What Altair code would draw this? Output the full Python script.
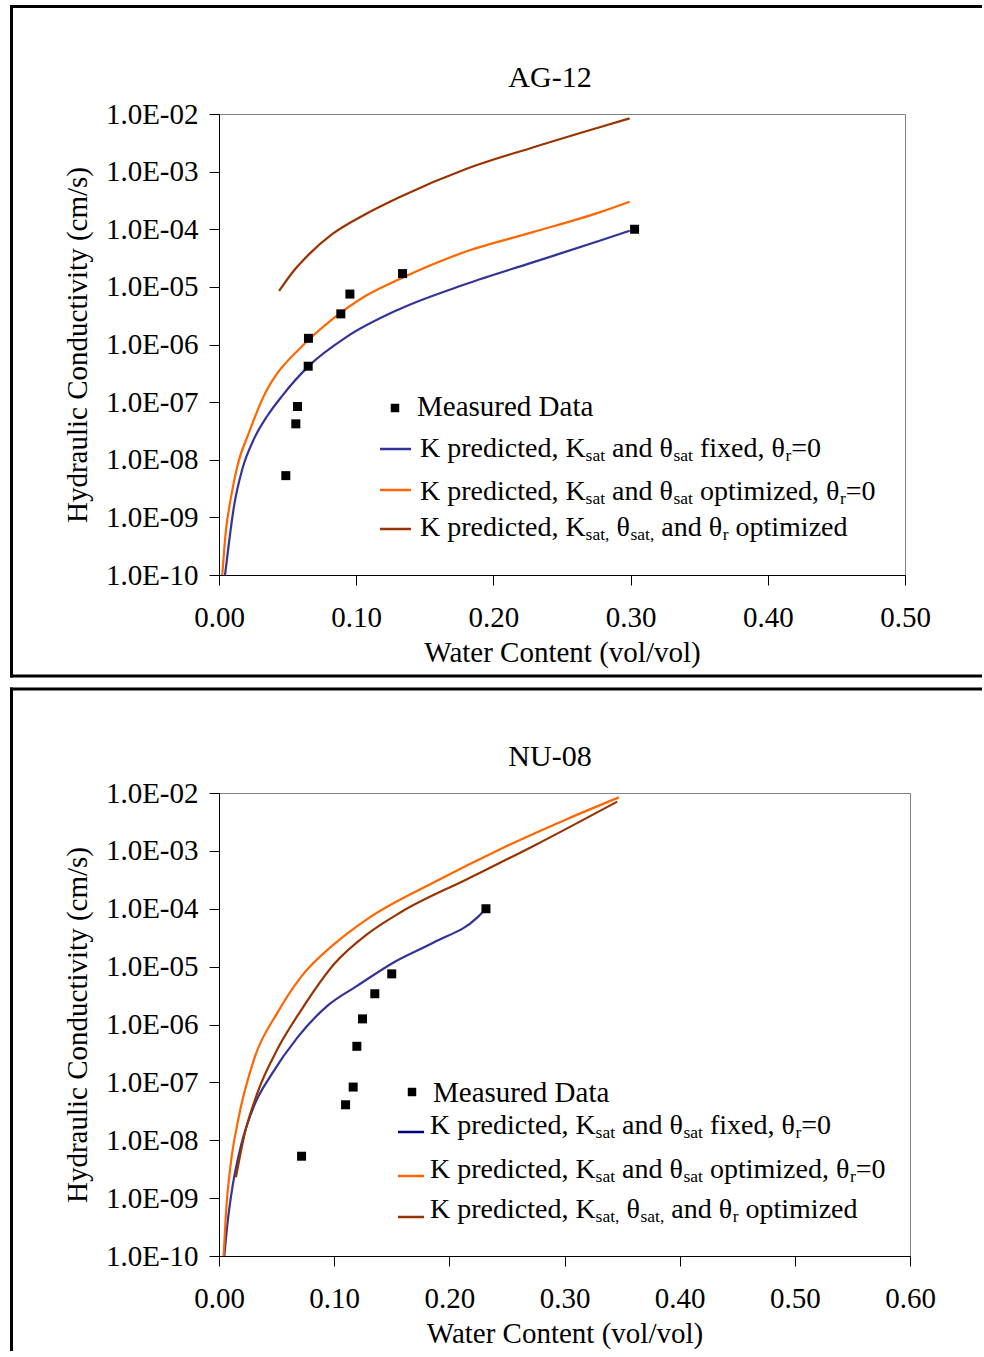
import altair as alt
import pandas as pd

FONT = "Liberation Serif"
BLUE_AG = "#333399"
BLUE_NU = "#000080"
ORANGE = "#FF6600"
BROWN = "#993300"

# ---------------- AG-12 ----------------
ag_meas_theta = [0.0487, 0.0560, 0.0572, 0.0650, 0.0652, 0.0888, 0.0954, 0.1338, 0.3029]
ag_meas_k = [5.3e-9, 4.2e-8, 8.4e-8, 4.2e-7, 1.28e-6, 3.4e-6, 7.5e-6, 1.7e-5, 1.0e-4]

ag_fixed_theta = [0.0044, 0.0073, 0.0110, 0.0170, 0.0255, 0.0353, 0.0462, 0.0657,
                  0.0925, 0.1314, 0.1800, 0.2287, 0.2774, 0.2993]
ag_fixed_k = [1.0e-10, 3.7e-10, 1.6e-9, 6.9e-9, 2.3e-8, 5.8e-8, 1.3e-7, 4.3e-7,
              1.33e-6, 4.1e-6, 1.12e-5, 2.66e-5, 6.3e-5, 9.4e-5]

ag_opt_theta = [0.0024, 0.0049, 0.0085, 0.0134, 0.0219, 0.0340, 0.0414, 0.0584,
                0.0827, 0.1070, 0.1314, 0.1800, 0.2287, 0.2774, 0.2993]
ag_opt_k = [1.0e-10, 5.5e-10, 2.07e-9, 7.8e-9, 2.98e-8, 1.48e-7, 2.9e-7, 8.3e-7,
            2.75e-6, 7.0e-6, 1.36e-5, 4.1e-5, 8.9e-5, 1.96e-4, 3.0e-4]

ag_optr_theta = [0.0438, 0.0535, 0.0657, 0.0827, 0.1070, 0.1314, 0.1800, 0.2287, 0.2774, 0.2993]
ag_optr_k = [8.5e-6, 1.78e-5, 3.7e-5, 8.3e-5, 1.84e-4, 3.6e-4, 1.11e-3, 2.63e-3, 5.9e-3, 8.4e-3]

# ---------------- NU-08 ----------------
nu_meas_theta = [0.0717, 0.1099, 0.1165, 0.1197, 0.1246, 0.1353, 0.1500, 0.2318]
nu_meas_k = [5.3e-9, 4.1e-8, 8.3e-8, 4.2e-7, 1.25e-6, 3.4e-6, 7.5e-6, 1.0e-4]

nu_fixed_theta = [0.0046, 0.0075, 0.0119, 0.0191, 0.0306, 0.0451, 0.0682, 0.0943,
                  0.1203, 0.1520, 0.1867, 0.2244, 0.2301]
nu_fixed_k = [1.0e-10, 3.9e-10, 1.66e-9, 8.1e-9, 4.0e-8, 1.32e-7, 6.0e-7, 2.12e-6,
              4.7e-6, 1.19e-5, 2.63e-5, 7.1e-5, 9.3e-5]

nu_opt_theta = [0.0040, 0.0061, 0.0104, 0.0162, 0.0306, 0.0509, 0.0711, 0.1000,
                0.1290, 0.1867, 0.2446, 0.3024, 0.3472]
nu_opt_k = [1.0e-10, 5.8e-10, 4.2e-9, 2.04e-8, 2.57e-7, 1.62e-6, 6.6e-6, 2.45e-5,
            6.7e-5, 2.87e-4, 1.08e-3, 3.56e-3, 8.4e-3]

nu_optr_theta = [0.0147, 0.0219, 0.0336, 0.0509, 0.0711, 0.1000, 0.1290, 0.1578,
                 0.2157, 0.2735, 0.3458]
nu_optr_k = [2.3e-9, 1.2e-8, 6.8e-8, 3.8e-7, 1.74e-6, 1.11e-5, 3.67e-5, 8.7e-5,
             3.27e-4, 1.23e-3, 7.1e-3]

y_ticks = [1e-10, 1e-9, 1e-8, 1e-7, 1e-6, 1e-5, 1e-4, 1e-3, 1e-2]

SERIES = ["fixed", "opt", "opt_r"]

LEGEND_LINES = [
    [("K predicted, K", False), ("sat", True), (" and θ", False), ("sat", True),
     (" fixed, θ", False), ("r", True), ("=0", False)],
    [("K predicted, K", False), ("sat", True), (" and θ", False), ("sat", True),
     (" optimized, θ", False), ("r", True), ("=0", False)],
    [("K predicted, K", False), ("sat,", True), (" θ", False), ("sat,", True),
     (" and θ", False), ("r", True), (" optimized", False)],
]

# Times-compatible advance widths (em units) for laying out mixed-size legend text
ADV = {"K": .722, " ": .25, "p": .5, "r": .333, "e": .444, "d": .5, "i": .278,
       "c": .444, "t": .278, ",": .25, "s": .389, "a": .444, "n": .5, "θ": .5,
       "f": .333, "x": .5, "=": .564, "0": .5, "o": .5, "m": .778, "z": .444}

ONE = pd.DataFrame({"a": [0]})
FS_MAIN, FS_SUB, SUB_DY = 28, 17.5, 4
FS_AXIS = 29


def text_at(txt, x, y, fs, align="left"):
    return alt.Chart(ONE).mark_text(
        text=txt, font=FONT, fontSize=fs, align=align, baseline="alphabetic", color="black"
    ).encode(x=alt.value(x), y=alt.value(y))


def hrule(x1, x2, y, color, w):
    return alt.Chart(ONE).mark_rule(color=color, strokeWidth=w).encode(
        x=alt.value(x1), x2=alt.value(x2), y=alt.value(y))


def vrule(x, y1, y2, color, w):
    return alt.Chart(ONE).mark_rule(color=color, strokeWidth=w).encode(
        x=alt.value(x), y=alt.value(y1), y2=alt.value(y2))


def rich_text(parts, x0, base):
    layers = []
    x = x0
    for txt, sub in parts:
        fs = FS_SUB if sub else FS_MAIN
        lead = len(txt) - len(txt.lstrip(" "))
        x += lead * ADV[" "] * fs
        body = txt.strip(" ")
        layers.append(text_at(body, x, base + (SUB_DY if sub else 0), fs))
        x += sum(ADV[c] for c in body) * fs
    return layers


def panel(name, xmax, width, height, meas, curves, colors, leg, frame):
    x_axis = alt.Axis(values=[round(0.1 * i, 1) for i in range(int(round(xmax * 10)) + 1)],
                      format=".2f", title="Water Content (vol/vol)", labelFlush=False,
                      labelOverlap=False, labelPadding=18, titlePadding=6)
    y_axis = alt.Axis(values=y_ticks, title="Hydraulic Conductivity (cm/s)",
                      labelExpr="'1.0E-' + (round(-log(datum.value) / LN10) < 10 ? '0' : '') + round(-log(datum.value) / LN10)",
                      labelPadding=11, titlePadding=13, labelOverlap=False, labelFlush=False)
    xs = alt.Scale(domain=[0, xmax], nice=False, zero=False)
    ys = alt.Scale(type="log", domain=[1e-10, 1e-2], nice=False)

    rows = []
    for s, (th, k) in zip(SERIES, curves):
        rows += [{"series": s, "theta": t, "k": v} for t, v in zip(th, k)]
    cdf = pd.DataFrame(rows)
    mdf = pd.DataFrame({"theta": meas[0], "k": meas[1]})

    lines = alt.Chart(cdf).mark_line(strokeWidth=2.2, clip=True, interpolate="monotone").encode(
        x=alt.X("theta:Q", scale=xs, axis=x_axis),
        y=alt.Y("k:Q", scale=ys, axis=y_axis),
        color=alt.Color("series:N", scale=alt.Scale(domain=SERIES, range=colors), legend=None),
    )
    points = alt.Chart(mdf).mark_square(size=81, color="black", opacity=1).encode(
        x=alt.X("theta:Q", scale=xs, axis=x_axis),
        y=alt.Y("k:Q", scale=ys, axis=y_axis),
    )

    layers = [lines, points]

    # chart title
    layers.append(text_at(name, 331, -27, 30, align="center"))

    # legend block
    sq_x, sq_y, md_x, md_base = leg["square"]
    layers.append(alt.Chart(ONE).mark_square(size=72, color="black", opacity=1).encode(
        x=alt.value(sq_x), y=alt.value(sq_y)))
    layers.append(text_at("Measured Data", md_x, md_base, 29))
    lx1, lx2, tx = leg["line_x"]
    for parts, col, (ly, base) in zip(LEGEND_LINES, colors, leg["rows"]):
        layers.append(hrule(lx1, lx2, ly, col, 2.5))
        layers += rich_text(parts, tx, base)

    # outer black box
    for kind, a, b, c in frame:
        if kind == "h":
            layers.append(hrule(a, b, c, "black", 3))
        else:
            layers.append(vrule(a, b, c, "black", 3))

    return alt.layer(*layers).properties(width=width, height=height)


ag = panel(
    "AG-12", 0.5, 686, 461,
    (ag_meas_theta, ag_meas_k),
    [(ag_fixed_theta, ag_fixed_k), (ag_opt_theta, ag_opt_k), (ag_optr_theta, ag_optr_k)],
    [BLUE_AG, ORANGE, BROWN],
    {"square": (176, 294, 198, 302), "line_x": (161, 192, 201),
     "rows": [(335, 343), (376, 386), (415, 422)]},
    [("v", -207.5, -109, 563.5), ("h", -209, 763, -107.5), ("h", -209, 763, 562)],
)

nu = panel(
    "NU-08", 0.6, 691, 463,
    (nu_meas_theta, nu_meas_k),
    [(nu_fixed_theta, nu_fixed_k), (nu_opt_theta, nu_opt_k), (nu_optr_theta, nu_optr_k)],
    [BLUE_NU, ORANGE, BROWN],
    {"square": (193, 299, 214, 309), "line_x": (179, 205, 211),
     "rows": [(339, 341), (383, 385), (424, 425)]},
    [("h", -209, 763, -104), ("v", -207.5, -105.5, 558)],
)

chart = alt.vconcat(ag, nu, spacing=218, bounds="flush").properties(
    padding={"left": 8, "top": 3, "right": 0, "bottom": 0}
).configure_view(
    stroke="#808080", strokeWidth=1
).configure_axis(
    labelFont=FONT, labelFontSize=FS_AXIS, labelColor="black",
    titleFont=FONT, titleFontSize=FS_AXIS, titleFontWeight="normal", titleColor="black",
    domainColor="black", domainWidth=1, tickColor="black", tickSize=10, grid=False,
)

chart.save("out.html", embed_options={"renderer": "svg", "actions": False})
